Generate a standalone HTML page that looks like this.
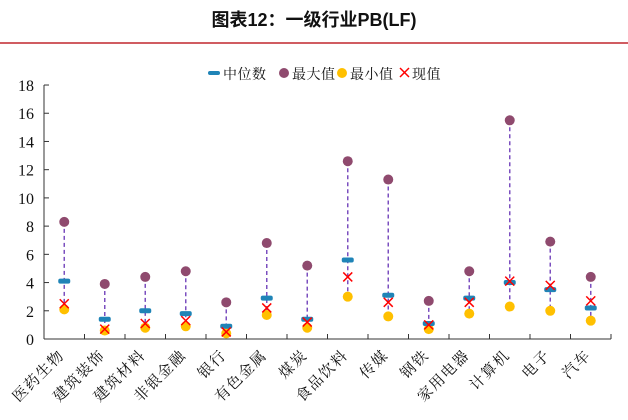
<!DOCTYPE html>
<html><head><meta charset="utf-8"><style>
body{margin:0;background:#fff;width:628px;height:420px;overflow:hidden}
svg{display:block}
</style></head><body>
<svg id="s" width="628" height="420" xmlns="http://www.w3.org/2000/svg" font-family="'Liberation Serif','Noto Serif CJK SC',serif">
<text x="314" y="26" text-anchor="middle" font-family="'Liberation Sans','Noto Sans CJK SC',sans-serif" font-weight="bold" font-size="18" fill="#111">图表12：一级行业PB(LF)</text>
<line x1="0" y1="43" x2="628" y2="43" stroke="#c0272d" stroke-width="1.5"/>
<g font-size="14" fill="#111" letter-spacing="0.5">
<rect x="208" y="71" width="12" height="4" rx="2" fill="#1f84b7"/><text x="223" y="79">中位数</text>
<circle cx="284" cy="73" r="5" fill="#8f4a6e"/><text x="292" y="79">最大值</text>
<circle cx="342" cy="73" r="5" fill="#ffc000"/><text x="350" y="79">最小值</text>
<path d="M400 68L409 77M409 68L400 77" stroke="#f00" stroke-width="1.5"/><text x="412" y="79">现值</text>
</g>
<g id="g"></g>
</svg>
<script>
var d=[["医药生物",8.3,4.1,2.1,2.5],["建筑装饰",3.9,1.4,0.6,0.7],["建筑材料",4.4,2.0,0.8,1.1],["非银金融",4.8,1.8,0.9,1.3],["银行",2.6,0.9,0.4,0.5],["有色金属",6.8,2.9,1.7,2.2],["煤炭",5.2,1.4,0.8,1.2],["食品饮料",12.6,5.6,3.0,4.4],["传媒",11.3,3.1,1.6,2.6],["钢铁",2.7,1.1,0.7,1.0],["家用电器",4.8,2.9,1.8,2.6],["计算机",15.5,4.0,2.3,4.1],["电子",6.9,3.5,2.0,3.8],["汽车",4.4,2.2,1.3,2.7]];
var x0=44,x1=611,y0=339,k=14.11,w=(x1-x0)/14,h='';
function Y(v){return y0-v*k}
h+='<line x1="'+x0+'" y1="85" x2="'+x0+'" y2="'+y0+'" stroke="#333"/>';
h+='<line x1="'+x0+'" y1="'+y0+'" x2="'+x1+'" y2="'+y0+'" stroke="#333"/>';
for(var i=0;i<=18;i+=2){var y=Y(i);h+='<line x1="'+x0+'" y1="'+y+'" x2="'+(x0+5)+'" y2="'+y+'" stroke="#333"/><text x="34" y="'+(y+6)+'" text-anchor="end" font-size="16" fill="#111">'+i+'</text>';}
for(i=1;i<=14;i++){var x=x0+w*i;h+='<line x1="'+x+'" y1="'+y0+'" x2="'+x+'" y2="'+(y0-5)+'" stroke="#333"/>';}
d.forEach(function(r,i){var c=x0+w*(i+0.5);
h+='<line x1="'+c+'" y1="'+Y(r[1])+'" x2="'+c+'" y2="'+Y(r[3])+'" stroke="#7b4fbf" stroke-width="1.5" stroke-dasharray="4,3"/>';
h+='<circle cx="'+c+'" cy="'+Y(r[1])+'" r="5" fill="#8f4a6e"/>';
h+='<circle cx="'+c+'" cy="'+Y(r[3])+'" r="5" fill="#ffc000"/>';
h+='<rect x="'+(c-6)+'" y="'+(Y(r[2])-2.5)+'" width="12" height="5" rx="2" fill="#1f84b7"/>';
var y=Y(r[4]);h+='<path d="M'+(c-4.5)+' '+(y-4.5)+'L'+(c+4.5)+' '+(y+4.5)+'M'+(c+4.5)+' '+(y-4.5)+'L'+(c-4.5)+' '+(y+4.5)+'" stroke="#f00" stroke-width="1.5"/>';
h+='<text transform="translate('+(c+1)+',356) rotate(-45)" text-anchor="end" font-size="15" letter-spacing="1.5" fill="#111">'+r[0]+'</text>';
});
document.getElementById('g').innerHTML=h;
</script>
</body></html>
